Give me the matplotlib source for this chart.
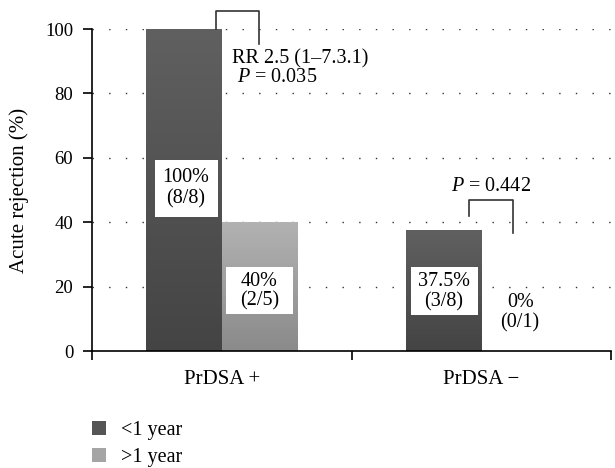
import matplotlib
matplotlib.use("Agg")
import matplotlib.pyplot as plt
import numpy as np
from matplotlib.colors import LinearSegmentedColormap
from matplotlib.patches import Patch, Rectangle

# ---- data ----
groups = ["PrDSA +", "PrDSA \u2212"]
series_names = ["<1 year", ">1 year"]
lt1_values = [100, 37.5]
gt1_values = [40, 0]
lt1_labels = ["100%\n(8/8)", "37.5%\n(3/8)"]
gt1_labels = ["40%\n(2/5)", "0%\n(0/1)"]
yticks = [0, 20, 40, 60, 80, 100]
rr_text = "RR 2.5 (1\u20137.3.1)"
p_texts = ["$P$ = 0.035", "$P$ = 0.442"]

plt.rcParams['font.family'] = ['Liberation Serif', 'DejaVu Serif']
plt.rcParams['mathtext.fontset'] = 'custom'
plt.rcParams['mathtext.rm'] = 'Liberation Serif'
plt.rcParams['mathtext.it'] = 'Liberation Serif:italic'

FS = 14.5
fig = plt.figure(figsize=(6.15, 4.68), dpi=100)
ax = fig.add_axes([92/615, 117/468, 519/615, 322/468])

x = np.arange(len(groups))
w = 0.29
dark_cols = ("#444444", "#606060")
light_cols = ("#8a8a8a", "#b2b2b2")

b1 = ax.bar(x - w/2, lt1_values, w, color="#555555", zorder=2)
b2 = ax.bar(x + w/2, gt1_values, w, color="#a0a0a0", zorder=2)

grad = np.linspace(0, 1, 256).reshape(-1, 1)
for bars, cols in ((b1, dark_cols), (b2, light_cols)):
    cmap = LinearSegmentedColormap.from_list("g", list(cols))
    for p in bars:
        bx, by = p.get_x(), p.get_y()
        bw, bh = p.get_width(), p.get_height()
        if bh <= 0:
            continue
        im = ax.imshow(grad, extent=[bx, bx + bw, by, by + bh], origin='lower',
                       aspect='auto', cmap=cmap, zorder=2.1, interpolation='bilinear')
        im.set_clip_path(p)

ax.set_xlim(-0.5, 1.5)
ax.set_ylim(0, 100)
ax.set_aspect('auto')

# grid
for yv in yticks[1:]:
    ax.axhline(yv, color="#333333", lw=1.0, ls=(0, (1, 11)), zorder=1)

ax.spines['top'].set_visible(False)
ax.spines['right'].set_visible(False)
ax.spines['left'].set_linewidth(1.2)
ax.spines['bottom'].set_linewidth(1.2)

ax.set_yticks(yticks)
ax.set_yticklabels([str(v) for v in yticks], fontsize=13.5)
ax.tick_params(axis='y', length=6.5, width=1.2, pad=7)

ax.set_xticks(x)
ax.set_xticklabels(groups, fontsize=15)
ax.tick_params(axis='x', which='major', length=0, pad=14)
ax.set_xticks([-0.5, 0.5, 1.5], minor=True)
ax.tick_params(axis='x', which='minor', length=6.5, width=1.2, direction='out')

ax.set_ylabel("Acute rejection (%)", fontsize=15)
ax.yaxis.set_label_coords(-0.122, 0.5)

# value label boxes (x0, x1, y0, y1 in data units)
boxes = [(-0.257, -0.0145, 41.6, 59.3),
         (0.729, 0.987, 11.2, 26.1),
         (0.0164, 0.2746, 11.5, 26.1)]
for (x0, x1, y0, y1) in boxes:
    ax.add_patch(Rectangle((x0, y0), x1 - x0, y1 - y0, fc='white', ec='none', zorder=4))

ax.text(x[0] - w/2 + 0.005, 50.5, lt1_labels[0], ha='center', va='center', fontsize=FS,
        zorder=5, linespacing=1.15)
ax.text(x[1] - w/2, 18.4, lt1_labels[1], ha='center', va='center', fontsize=FS,
        zorder=5, linespacing=1.05)
ax.text(x[0] + w/2, 18.6, gt1_labels[0], ha='center', va='center', fontsize=FS,
        zorder=5, linespacing=1.05)
ax.text(x[1] + w/2 + 0.005, 11.8, gt1_labels[1], ha='center', va='center', fontsize=FS,
        zorder=5, linespacing=1.1)

# brackets
lc = "#333333"
ax.plot([-0.022, -0.022, 0.144, 0.144], [100, 105.6, 105.6, 95.3], color=lc,
        lw=1.2, clip_on=False, zorder=4)
ax.text(0.04, 90.7, rr_text, ha='left', va='center', fontsize=FS)
ax.text(0.058, 84.8, p_texts[0], ha='left', va='center', fontsize=FS)

ax.plot([0.953, 0.953, 1.122, 1.122], [41.9, 46.9, 46.9, 36.6], color=lc,
        lw=1.2, clip_on=False, zorder=4)
ax.text(1.0376, 51.2, p_texts[1], ha='center', va='center', fontsize=FS)

# legend
handles = [Patch(facecolor="#555555", edgecolor='none'),
           Patch(facecolor="#a5a5a5", edgecolor='none')]
fig.legend(handles, series_names, loc='upper left',
           bbox_to_anchor=(84/615, 1 - 413/468), frameon=False, fontsize=FS,
           handlelength=0.7, handleheight=0.7, handletextpad=0.75,
           labelspacing=0.4, borderpad=0.4, borderaxespad=0)

fig.savefig("out.png", dpi=100)
